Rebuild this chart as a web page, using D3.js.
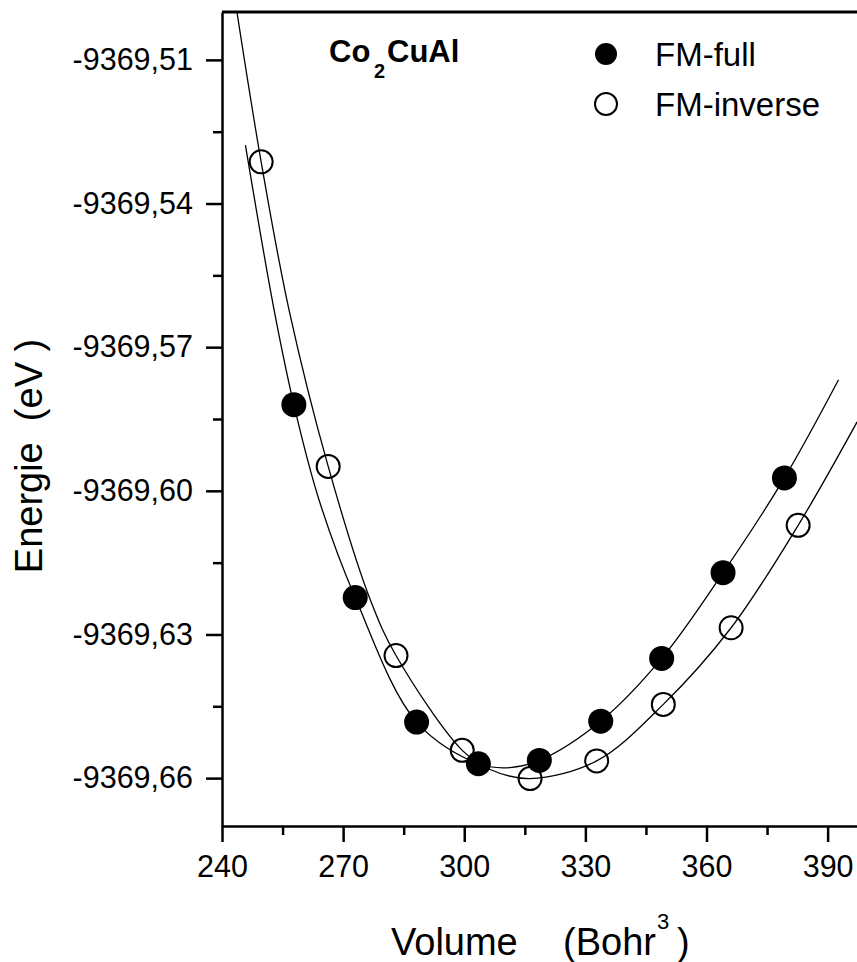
<!DOCTYPE html>
<html>
<head>
<meta charset="utf-8">
<script src="https://cdn.jsdelivr.net/npm/d3@7"></script>
<style>
  body { margin: 0; background: #fff; }
  svg { display: block; font-family: "Liberation Sans", Arial, sans-serif; }
  .axis path, .axis line { stroke: #000; stroke-width: 2.5; }
  .axis text { font-size: 30.5px; fill: #000; font-family: "Liberation Sans", Arial, sans-serif; }
</style>
</head>
<body>
<svg id="chart"></svg>
<script>
// measured points (volume in Bohr^3, energy in eV)
const volFull = [257.8, 273.0, 288.2, 303.5, 318.6, 333.8, 348.9, 364.1, 379.3];
const eFull = [-9369.5820, -9369.6223, -9369.6483, -9369.6570, -9369.6563, -9369.6481, -9369.6350, -9369.6171, -9369.5973];
const volInv = [249.7, 266.3, 283.1, 299.5, 316.3, 332.8, 349.3, 366.1, 382.7];
const eInv = [-9369.5313, -9369.5949, -9369.6344, -9369.6542, -9369.6601, -9369.6564, -9369.6446, -9369.6286, -9369.6072];

// fitted curves
const fitFullV = [245.8, 252.9, 257.8, 264.0, 273.0, 288.2, 303.5, 311.3, 318.6, 333.8, 348.9, 364.1, 379.3, 392.7];
const fitFullE = [-9369.5278, -9369.5622, -9369.5820, -9369.6018, -9369.6223, -9369.6483, -9369.6570, -9369.6578, -9369.6563, -9369.6481, -9369.6350, -9369.6171, -9369.5973, -9369.5768];
const fitInvV = [243.7, 249.7, 256.6, 266.3, 276.7, 283.1, 299.5, 306.4, 316.3, 332.8, 349.3, 366.1, 382.7, 397.3];
const fitInvE = [-9369.5000, -9369.5313, -9369.5622, -9369.5949, -9369.6227, -9369.6344, -9369.6542, -9369.6582, -9369.6601, -9369.6564, -9369.6446, -9369.6286, -9369.6072, -9369.5856];

const xMajor = [240, 270, 300, 330, 360, 390];
const xMinor = [255, 285, 315, 345, 375];
const yMajor = [-9369.66, -9369.63, -9369.60, -9369.57, -9369.54, -9369.51];
const yMinor = [-9369.645, -9369.615, -9369.585, -9369.555, -9369.525];

const W = 857, H = 962;
const svg = d3.select('#chart').attr('width', W).attr('height', H);

const x = d3.scaleLinear().domain([240, 400]).range([222, 868]);
const y = d3.scaleLinear().domain([-9369.67, -9369.50]).range([826, 12]);

const locale = d3.formatLocale({ decimal: ',', thousands: '.', grouping: [3], currency: ['', ''], minus: '-' });
const fmt = locale.format('.2f');

svg.append('clipPath').attr('id', 'plot-clip')
  .append('rect')
  .attr('x', x(240)).attr('y', y(-9369.50))
  .attr('width', x(400) - x(240)).attr('height', y(-9369.67) - y(-9369.50));

// curves
const line = d3.line()
  .x(d => x(d[0]))
  .y(d => y(d[1]))
  .curve(d3.curveCatmullRom.alpha(0.5));

const fits = [
  d3.zip(fitFullV, fitFullE),
  d3.zip(fitInvV, fitInvE)
];

svg.append('g').attr('clip-path', 'url(#plot-clip)')
  .selectAll('path')
  .data(fits)
  .enter()
  .append('path')
  .attr('d', line)
  .attr('fill', 'none')
  .attr('stroke', '#000')
  .attr('stroke-width', 1.3);

// points
svg.append('g').selectAll('circle')
  .data(d3.zip(volFull, eFull))
  .enter()
  .append('circle')
  .attr('cx', d => x(d[0]))
  .attr('cy', d => y(d[1]))
  .attr('r', 12.5)
  .attr('fill', '#000');

svg.append('g').selectAll('circle')
  .data(d3.zip(volInv, eInv))
  .enter()
  .append('circle')
  .attr('cx', d => x(d[0]))
  .attr('cy', d => y(d[1]))
  .attr('r', 11.5)
  .attr('fill', 'none')
  .attr('stroke', '#000')
  .attr('stroke-width', 2);

// axes
svg.append('g')
  .attr('class', 'axis')
  .attr('transform', `translate(${x(240)},0)`)
  .call(d3.axisLeft(y).tickValues(yMajor).tickFormat(fmt).tickSize(16).tickSizeOuter(0).tickPadding(13));

svg.append('g')
  .attr('class', 'axis')
  .attr('transform', `translate(${x(240)},0)`)
  .call(d3.axisLeft(y).tickValues(yMinor).tickFormat('').tickSize(9))
  .call(g => g.select('.domain').remove());

svg.append('g')
  .attr('class', 'axis')
  .attr('transform', `translate(0,${y(-9369.67)})`)
  .call(d3.axisBottom(x).tickValues(xMajor).tickSize(16).tickSizeOuter(0).tickPadding(13));

svg.append('g')
  .attr('class', 'axis')
  .attr('transform', `translate(0,${y(-9369.67)})`)
  .call(d3.axisBottom(x).tickValues(xMinor).tickFormat('').tickSize(9))
  .call(g => g.select('.domain').remove());

// top and right frame
svg.append('path')
  .attr('d', `M${x(240)},${y(-9369.50)}H${x(400)}V${y(-9369.67)}`)
  .attr('fill', 'none')
  .attr('stroke', '#000')
  .attr('stroke-width', 3);

// axis titles
svg.append('text')
  .attr('transform', 'translate(42,456) rotate(-90)')
  .attr('text-anchor', 'middle')
  .attr('font-size', 38)
  .style('white-space', 'pre')
  .text('Energie  (eV )');

const xt = svg.append('text')
  .attr('x', 391).attr('y', 955)
  .attr('font-size', 38)
  .style('white-space', 'pre');
xt.append('tspan').text('Volume');
xt.append('tspan').attr('x', 563).text('(Bohr');
xt.append('tspan').attr('x', 657).attr('dy', -26).attr('font-size', 22).text('3');
xt.append('tspan').attr('x', 677).attr('dy', 26).text(')');

// compound label
const tt = svg.append('text')
  .attr('x', 329).attr('y', 62)
  .attr('font-size', 31)
  .attr('font-weight', 'bold');
tt.append('tspan').text('Co');
tt.append('tspan').attr('x', 374).attr('dy', 16).attr('font-size', 20).text('2');
tt.append('tspan').attr('x', 387).attr('dy', -16).text('CuAl');

// legend
const legendItems = ['FM-full', 'FM-inverse'];
const legend = svg.append('g').selectAll('g')
  .data(legendItems)
  .enter()
  .append('g')
  .attr('transform', (d, i) => `translate(606,${54 + i * 50})`);

legend.append('circle')
  .attr('r', 11)
  .attr('fill', (d, i) => i === 0 ? '#000' : 'none')
  .attr('stroke', '#000')
  .attr('stroke-width', (d, i) => i === 0 ? 0 : 2);

legend.append('text')
  .attr('x', 49)
  .attr('y', 12)
  .attr('font-size', 33)
  .text(d => d);
</script>
</body>
</html>
